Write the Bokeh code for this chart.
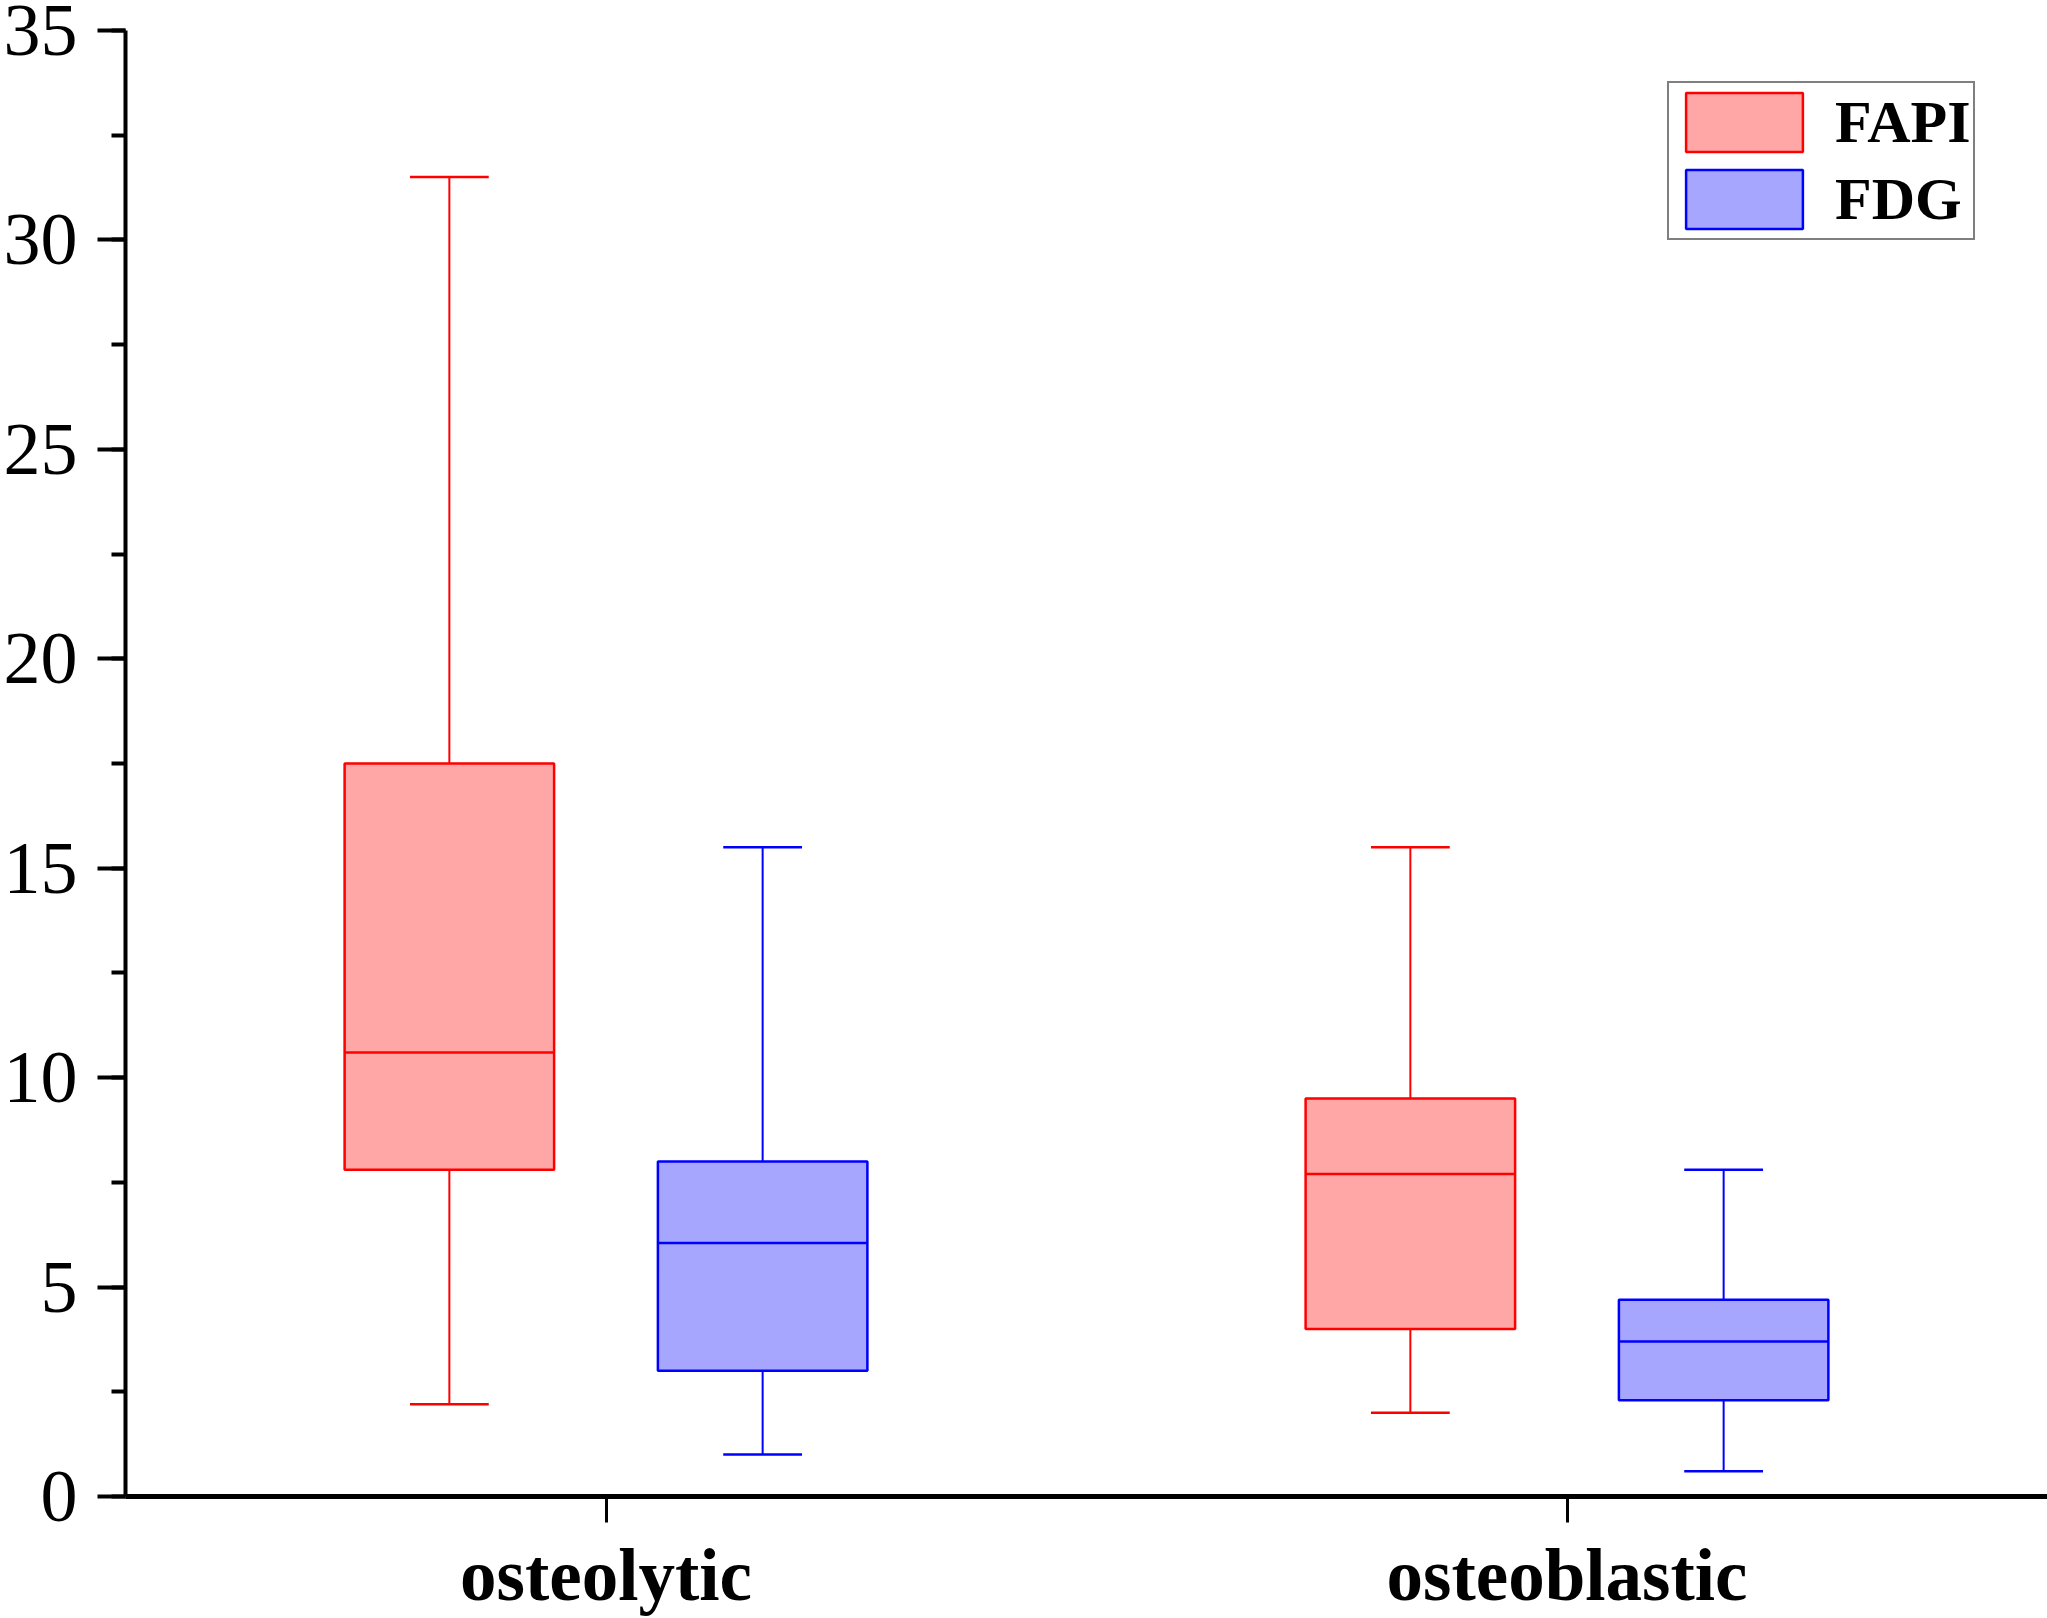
from bokeh.plotting import figure
from bokeh.models import (ColumnDataSource, FactorRange, Range1d, Legend, LegendItem,
                          SingleIntervalTicker)
from bokeh.transform import dodge
from bokeh.embed import file_html
from bokeh.resources import INLINE

# ---- data ----
categories = ["osteolytic", "osteoblastic"]
series_names = ["FAPI", "FDG"]

fapi_low = [2.2, 2.0]
fapi_q1 = [7.8, 4.0]
fapi_med = [10.6, 7.7]
fapi_q3 = [17.5, 9.5]
fapi_high = [31.5, 15.5]

fdg_low = [1.0, 0.6]
fdg_q1 = [3.0, 2.3]
fdg_med = [6.05, 3.7]
fdg_q3 = [8.0, 4.7]
fdg_high = [15.5, 7.8]

fill_colors = ["#FFA6A6", "#A6A6FF"]
line_colors = ["#FF0000", "#0000FF"]

FONT = "Liberation Serif"

p = figure(width=2047, height=1618, output_backend="svg", toolbar_location=None,
           x_range=FactorRange(*categories, range_padding=0),
           y_range=Range1d(0, 35),
           min_border_left=125, min_border_top=30, min_border_right=0, min_border_bottom=121)
p.outline_line_color = None
p.xgrid.grid_line_color = None
p.ygrid.grid_line_color = None
p.background_fill_color = "white"
p.border_fill_color = "white"

offsets = [-0.163, 0.163]
box_w = 0.218
cap_w = 0.082
series = [
    (fapi_low, fapi_q1, fapi_med, fapi_q3, fapi_high),
    (fdg_low, fdg_q1, fdg_med, fdg_q3, fdg_high),
]

items = []
for i, (low, q1, med, q3, high) in enumerate(series):
    src = ColumnDataSource(dict(cat=categories, low=low, q1=q1, med=med, q3=q3, high=high))
    off = offsets[i]
    lc = line_colors[i]
    # whiskers
    p.segment(x0=dodge("cat", off, range=p.x_range), x1=dodge("cat", off, range=p.x_range),
              y0="q3", y1="high", source=src, line_color=lc, line_width=2)
    p.segment(x0=dodge("cat", off, range=p.x_range), x1=dodge("cat", off, range=p.x_range),
              y0="q1", y1="low", source=src, line_color=lc, line_width=2)
    # caps
    p.segment(x0=dodge("cat", off - cap_w / 2, range=p.x_range),
              x1=dodge("cat", off + cap_w / 2, range=p.x_range),
              y0="high", y1="high", source=src, line_color=lc, line_width=2.5)
    p.segment(x0=dodge("cat", off - cap_w / 2, range=p.x_range),
              x1=dodge("cat", off + cap_w / 2, range=p.x_range),
              y0="low", y1="low", source=src, line_color=lc, line_width=2.5)
    # box
    r = p.vbar(x=dodge("cat", off, range=p.x_range), width=box_w, bottom="q1", top="q3",
               source=src, fill_color=fill_colors[i], line_color=lc, line_width=2.5)
    # median
    p.segment(x0=dodge("cat", off - box_w / 2, range=p.x_range),
              x1=dodge("cat", off + box_w / 2, range=p.x_range),
              y0="med", y1="med", source=src, line_color=lc, line_width=2.5)
    items.append(LegendItem(label=series_names[i], renderers=[r]))

legend = Legend(items=items, location=(1542, 1256))
legend.label_text_font = FONT
legend.label_text_font_style = "bold"
legend.label_text_font_size = "60px"
legend.label_text_color = "black"
legend.glyph_width = 146
legend.glyph_height = 74
legend.label_standoff = 18
legend.spacing = 3
legend.padding = 2
legend.border_line_color = "black"
legend.border_line_width = 2
legend.background_fill_alpha = 1.0
p.add_layout(legend)

# y axis
ya = p.yaxis[0]
ya.ticker = SingleIntervalTicker(interval=5, num_minor_ticks=2)
ya.axis_line_width = 4
ya.axis_line_color = "black"
ya.major_tick_line_width = 4
ya.minor_tick_line_width = 4
ya.major_tick_out = 28
ya.major_tick_in = 0
ya.minor_tick_out = 14
ya.minor_tick_in = 0
ya.major_label_text_font = FONT
ya.major_label_text_font_size = "74px"
ya.major_label_text_color = "black"
ya.major_label_standoff = 20

# x axis
xa = p.xaxis[0]
xa.axis_line_width = 5
xa.axis_line_color = "black"
xa.major_tick_line_width = 3
xa.major_tick_out = 26
xa.major_tick_in = 0
xa.minor_tick_line_color = None
xa.major_label_text_font = FONT
xa.major_label_text_font_style = "bold"
xa.major_label_text_font_size = "73px"
xa.major_label_text_color = "black"
xa.major_label_standoff = 12
xa.major_label_orientation = "horizontal"

open("out.html", "w").write(file_html(p, INLINE))
